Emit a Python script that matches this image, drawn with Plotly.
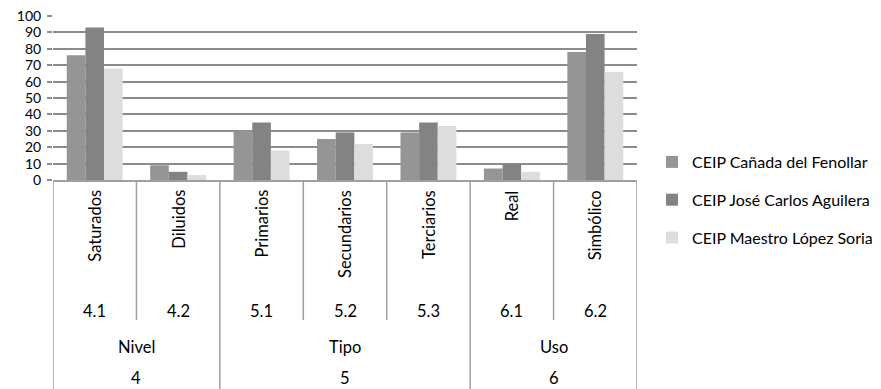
import plotly.graph_objects as go

# Sub-categories, their codes and the parent groups
categorias = ["Saturados", "Diluidos", "Primarios", "Secundarios", "Terciarios", "Real", "Simbólico"]
codigos = ["4.1", "4.2", "5.1", "5.2", "5.3", "6.1", "6.2"]
grupos = ["Nivel", "Tipo", "Uso"]
grupo_codigos = ["4", "5", "6"]
grupo_tamanos = [2, 3, 2]

# Percentages per school
canada = [76, 9, 30, 25, 29, 7, 78]
aguilera = [93, 5, 35, 29, 35, 10, 89]
lopez = [68, 3, 18, 22, 33, 5, 66]

series = [
    ("CEIP Cañada del Fenollar", canada, "#959595"),
    ("CEIP José Carlos Aguilera", aguilera, "#838383"),
    ("CEIP Maestro López Soria", lopez, "#dddddd"),
]

FONT = "Lato, 'Open Sans', sans-serif"
LINE = "#a0a0a0"
TXT = 16.5
W, H = 881, 389

fig = go.Figure()
for i, (name, vals, color) in enumerate(series):
    fig.add_trace(go.Bar(
        x=categorias, y=vals, name=name, legendgroup=f"g{i}",
        marker=dict(color=color, line=dict(width=0)),
    ))

n = len(categorias)
H_PLOT = 164.0  # plot height in px, for converting pixel offsets to paper units


def py(px_below):
    return -px_below / H_PLOT


shapes = []
annotations = []

# Category labels (rotated) and their codes
for i, (cat, code) in enumerate(zip(categorias, codigos)):
    annotations.append(dict(x=i, y=py(8), xref="x", yref="paper", text=cat,
                            textangle=-90, showarrow=False, xanchor="center",
                            yanchor="top", font=dict(size=TXT, color="#000")))
    annotations.append(dict(x=i, y=py(131), xref="x", yref="paper", text=code,
                            showarrow=False, xanchor="center", yanchor="middle",
                            font=dict(size=TXT, color="#000")))

# Inner separators between sub-categories and group separators
start = 0
bounds = [-0.5]
for size in grupo_tamanos:
    for k in range(1, size):
        xb = start + k - 0.5
        shapes.append(dict(type="line", xref="x", yref="paper", x0=xb, x1=xb,
                           y0=0, y1=py(140), line=dict(color=LINE, width=1.5)))
    start += size
    bounds.append(start - 0.5)

for xb in bounds:
    shapes.append(dict(type="line", xref="x", yref="paper", x0=xb, x1=xb,
                       y0=0, y1=py(215), line=dict(color=LINE, width=1.5)))

# Group names and group codes
start = 0
for g, gc, size in zip(grupos, grupo_codigos, grupo_tamanos):
    center = start + (size - 1) / 2
    annotations.append(dict(x=center, y=py(167), xref="x", yref="paper", text=g,
                            showarrow=False, xanchor="center", yanchor="middle",
                            font=dict(size=TXT, color="#000")))
    annotations.append(dict(x=center, y=py(209), xref="x", yref="paper", text=gc,
                            showarrow=False, xanchor="center", yanchor="bottom",
                            borderpad=0, font=dict(size=TXT, color="#000")))
    start += size

fig.update_layout(
    width=W, height=H,
    margin=dict(l=53, r=244, t=16, b=209, autoexpand=False),
    paper_bgcolor="white", plot_bgcolor="white",
    barmode="group", bargap=0.33, bargroupgap=0,
    font=dict(family=FONT, color="#000"),
    showlegend=True,
    legend=dict(xref="container", yref="container",
                x=652 / W, y=1 - 145 / H, xanchor="left", yanchor="top",
                font=dict(size=16, color="#000"), tracegroupgap=14,
                itemwidth=30, bgcolor="rgba(0,0,0,0)"),
    shapes=shapes,
    annotations=annotations,
    xaxis=dict(range=[-0.5, n - 0.5], showticklabels=False, showgrid=False,
               showline=True, linecolor=LINE, linewidth=1.5, ticks="",
               zeroline=False),
    yaxis=dict(range=[0, 100], dtick=10, showgrid=True, gridcolor="#8c8c8c",
               gridwidth=1.5, showline=False, zeroline=False, ticks="outside",
               ticklen=5, tickcolor="#8c8c8c", tickwidth=1.5,
               tickfont=dict(size=14, color="#000"), ticklabelstandoff=3),
)

fig.write_html("out.html")
